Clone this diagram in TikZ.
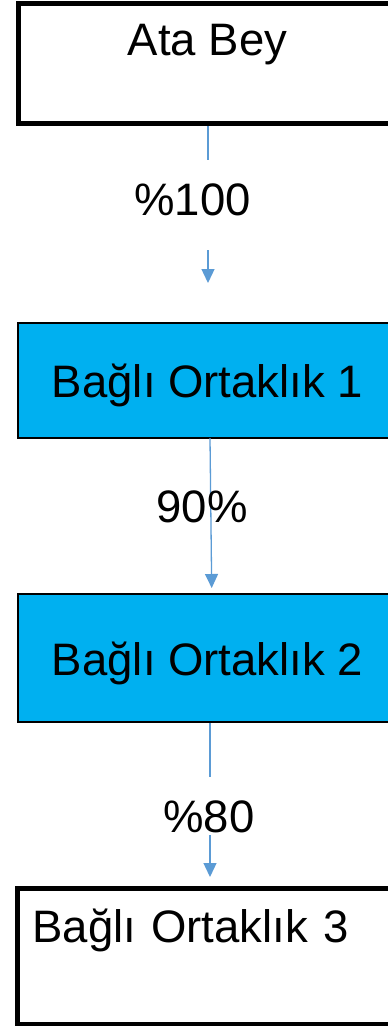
\documentclass[tikz,border=0pt]{standalone}
\usepackage{fontspec}
\setmainfont{Liberation Sans}
\usetikzlibrary{arrows.meta}
\definecolor{boxblue}{HTML}{00B0F0}
\definecolor{arrowblue}{HTML}{5B9BD5}
\begin{document}
\begin{tikzpicture}[x=1pt,y=-1pt,
  every node/.style={font=\fontsize{45.5}{52}\selectfont, inner ysep=0pt},
  whitebox/.style={draw=black, line width=5pt, fill=white, minimum width=379pt, anchor=base},
  bluebox/.style={draw=black, line width=1.5pt, fill=boxblue, minimum width=379pt, anchor=base},
  pct/.style={anchor=base, inner xsep=2pt},
  arr/.style={draw=arrowblue, line width=1.3pt, -{Triangle[width=13pt,length=14pt]}},
  seg/.style={draw=arrowblue, line width=1.3pt}
]
\useasboundingbox (0,0) rectangle (388,1026);
\fill[white] (0,0) rectangle (388,1026);

\node[whitebox, text height=51.5pt, text depth=68.5pt] (ata) at (207.5,55) {Ata Bey};
\node[bluebox, text height=74pt, text depth=41pt] (b1) at (207.5,397) {Bağlı Ortaklık 1};
\node[bluebox, text height=81pt, text depth=47pt] (b2) at (207.5,675) {Bağlı Ortaklık 2};
\node[draw=black, line width=5pt, fill=white, anchor=base west, text width=362pt, align=left,
      inner xsep=15pt, text height=54pt, text depth=82pt] (b3) at (15,942) {Bağlı Ortaklık 3};

% arrow 1
\node[pct, text height=55pt, text depth=35pt] (l1) at (192.5,215) {\%100};
\coordinate (e1) at (208,283);
\draw[seg] (ata.south -| e1) -- (l1.north -| e1);
\draw[arr] (l1.south -| e1) -- (e1);

% arrow 2
\coordinate (s2) at (210,438);
\coordinate (e2) at (211.7,588);
\draw[arr] (s2) -- (e2);
\node[pct, text height=31.5pt, text depth=0pt] (l2) at (202,522) {90\%};

% arrow 3
\node[pct, text height=55pt, text depth=3pt] (l3) at (209,832) {\%80};
\coordinate (e3) at (210,877);
\draw[seg] (b2.south -| e3) -- (l3.north -| e3);
\draw[arr] (l3.south -| e3) -- (e3);
\end{tikzpicture}
\end{document}
